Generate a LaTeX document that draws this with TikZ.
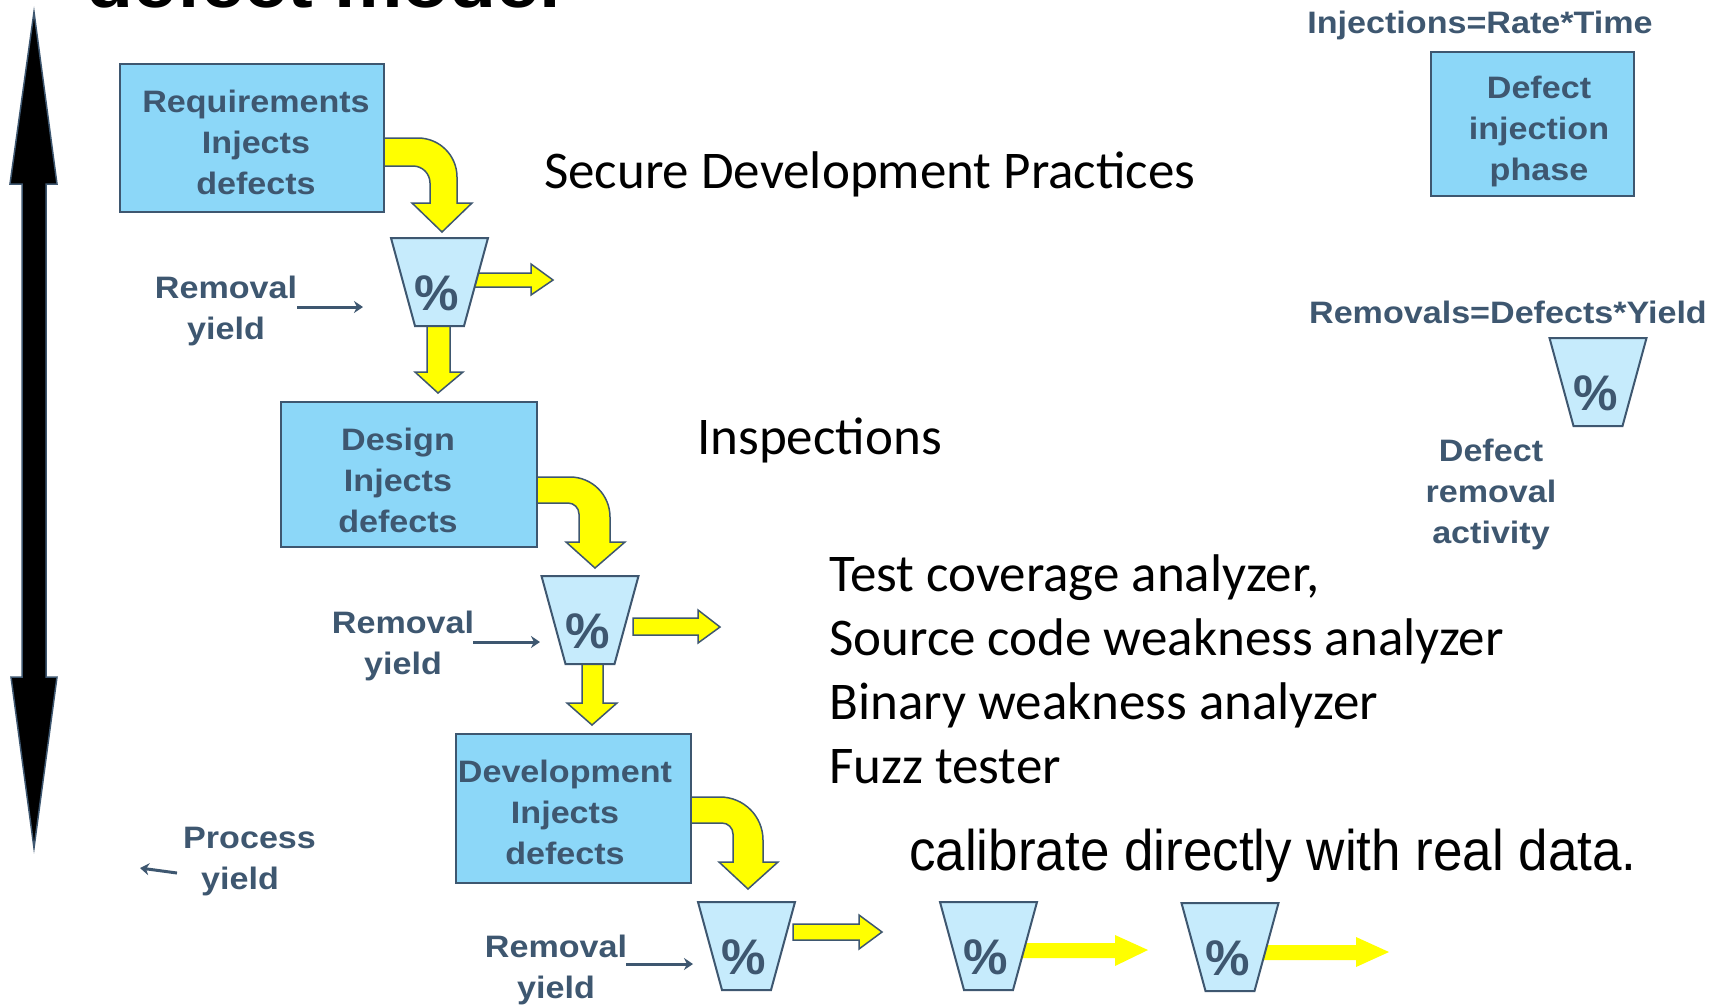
\documentclass[tikz,border=0pt]{standalone}
\usepackage{fontspec}
\setmainfont{Liberation Sans}
\newfontfamily\calibrifont{Carlito}
\usetikzlibrary{arrows.meta}
\definecolor{slate}{HTML}{3E5770}
\definecolor{boxblue}{HTML}{8CD7F8}
\definecolor{funblue}{HTML}{C6EBFC}
\definecolor{yel}{HTML}{FFFF00}
\newcommand\ml[1]{\scalebox{1.1}[1]{\begin{tabular}[t]{@{}c@{}}#1\end{tabular}}}
\newcommand\mll[1]{\scalebox{1.1}[1]{\begin{tabular}[t]{@{}l@{}}#1\end{tabular}}}
\tikzset{
  lbl/.style={font=\bfseries\fontsize{31}{41}\selectfont, text=slate, inner sep=0pt},
  stagebox/.style={draw=slate, fill=boxblue, line width=2pt, inner sep=0pt},
  funnelshape/.style={draw=slate, fill=funblue, line width=2pt, line join=miter},
  pct/.style={font=\bfseries\fontsize{50}{50}\selectfont, text=slate, inner sep=0pt},
  yarrow/.style={draw=slate, fill=yel, line width=1.5pt, line join=miter},
  yplain/.style={fill=yel},
  smallarrow/.style={draw=slate, line width=3pt, -{Stealth[length=9pt,width=12pt]}},
  calib/.style={font=\calibrifont\fontsize{53}{64}\selectfont, inner sep=0pt, anchor=base west},
}
\newcommand\funnel[3]{%
  \path[funnelshape] (#2-48.5,#3) -- (#2+48.5,#3) -- (#2+24.5,#3+88) -- (#2-24.5,#3+88) -- cycle;
  \node[pct] (#1) at (#2-2.5,#3+55) {\%};}
\begin{document}
\begin{tikzpicture}[x=1pt,y=-1pt]
\useasboundingbox (0,0) rectangle (1727,1005);
\fill[white] (0,0) rectangle (1727,1005);
% title (cut at the top)
\begin{scope}
\clip (0,0) rectangle (1727,1005);
\node[anchor=base west, font=\bfseries\fontsize{70}{70}\selectfont, inner sep=0pt] (title) at (86,7) {\scalebox{1.1}[1]{defect model}};
\end{scope}
% big double arrow
\path[fill=black, draw=slate, line width=1.5pt, line join=miter]
  (34,12) -- (57,184) -- (46,184) -- (46,677) -- (57,677) -- (34,848) -- (11,677) -- (22,677) -- (22,184) -- (10,184) -- cycle;
% curved yellow arrows
\path[yarrow] (382,138) -- (418,138) arc[start angle=270,end angle=360,radius=39] -- (457,203) -- (472,203) -- (442,232) -- (412,203) -- (430,203) -- (430,183) arc[start angle=0,end angle=-90,radius=17] -- (382,166) -- cycle;
\path[yarrow] (535,477) -- (570,477) arc[start angle=270,end angle=360,radius=40] -- (610,542) -- (625,542) -- (595,568) -- (566,542) -- (579,542) -- (579,514) arc[start angle=0,end angle=-90,radius=11] -- (535,503) -- cycle;
\path[yarrow] (689,797) -- (720,797) arc[start angle=270,end angle=360,radius=43] -- (763,862) -- (778,862) -- (748,889) -- (719,862) -- (733,862) -- (733,834) arc[start angle=0,end angle=-90,radius=11] -- (689,823) -- cycle;
% straight yellow arrows
\path[yarrow] (473,273) -- (531,273) -- (531,264) -- (553,280) -- (531,295) -- (531,287) -- (473,287) -- cycle;
\path[yarrow] (633,618) -- (698,618) -- (698,610) -- (720,627) -- (698,643) -- (698,635) -- (633,635) -- cycle;
\path[yarrow] (793,924) -- (859,924) -- (859,915) -- (882,932) -- (859,949) -- (859,940) -- (793,940) -- cycle;
\path[yarrow] (427,324) -- (450,324) -- (450,372) -- (463,372) -- (438,393) -- (415,372) -- (427,372) -- cycle;
\path[yarrow] (582,662) -- (603,662) -- (603,703) -- (617,703) -- (592,725) -- (567,703) -- (582,703) -- cycle;
\path[yplain] (1023,943) -- (1115,943) -- (1115,935) -- (1148,950) -- (1115,966) -- (1115,958) -- (1023,958) -- cycle;
\path[yplain] (1263,945) -- (1356,945) -- (1356,937) -- (1389,952) -- (1356,967) -- (1356,960) -- (1263,960) -- cycle;
% stage boxes
\node[stagebox, minimum width=264pt, minimum height=148pt] (req) at (252,138) {};
\node[stagebox, minimum width=256pt, minimum height=145pt] (des) at (409,474.5) {};
\node[stagebox, minimum width=235pt, minimum height=149pt] (dev) at (573.5,808.5) {};
\node[stagebox, minimum width=203pt, minimum height=144pt] (inj) at (1532.5,124) {};
\node[lbl, anchor=base] (reqt) at (256,112) {\ml{Requirements\\Injects\\defects}};
\node[lbl, anchor=base] (dest) at (398,450) {\ml{Design\\Injects\\defects}};
\node[lbl, anchor=base] (devt) at (565,782) {\ml{Development\\Injects\\defects}};
\node[lbl, anchor=base] (injt) at (1539,98) {\ml{Defect\\injection\\phase}};
% funnels
\funnel{f1}{439.5}{238}
\funnel{f2}{590}{576}
\funnel{f3}{746.5}{902}
\funnel{f4}{988.5}{902}
\funnel{f5}{1230}{903}
\funnel{fr}{1598}{338}
% labels
\node[lbl, anchor=base] (rem1) at (226,298) {\ml{Removal\\yield}};
\node[lbl, anchor=base] (rem2) at (403,633) {\ml{Removal\\yield}};
\node[lbl, anchor=base] (rem3) at (556,957) {\ml{Removal\\yield}};
\node[lbl, anchor=base west] (proc) at (183,848) {\mll{Process\\\hspace*{16.4pt}yield}};
\node[lbl, anchor=base] (dra) at (1491,461) {\ml{Defect\\removal\\activity}};
\node[lbl, anchor=base] (injf) at (1480,33) {\scalebox{1.1}[1]{Injections=Rate*Time}};
\node[lbl, anchor=base] (remf) at (1508,323) {\scalebox{1.1}[1]{Removals=Defects*Yield}};
% small arrows
\coordinate (a1s) at (297,307); \coordinate (a1e) at (363,307);
\coordinate (a2s) at (473,642); \coordinate (a2e) at (540,642);
\coordinate (a3s) at (626,964); \coordinate (a3e) at (693,964);
\coordinate (a4s) at (177,873); \coordinate (a4e) at (140,868);
\draw[smallarrow] (a1s) -- (a1e);
\draw[smallarrow] (a2s) -- (a2e);
\draw[smallarrow] (a3s) -- (a3e);
\draw[smallarrow] (a4s) -- (a4e);
% black texts
\node[calib] (sdp) at (544,188) {Secure Development Practices};
\node[calib] (insp) at (697,454) {Inspections};
\node[calib] (tools) at (829,591) {\begin{tabular}[t]{@{}l@{}}Test coverage analyzer,\\Source code weakness analyzer\\Binary weakness analyzer\\Fuzz tester\end{tabular}};
\node[anchor=base west, inner sep=0pt, font=\fontsize{53}{53}\selectfont] (calib) at (909,870) {\scalebox{1}[1.08]{calibrate directly with real data.}};
\end{tikzpicture}
\end{document}
